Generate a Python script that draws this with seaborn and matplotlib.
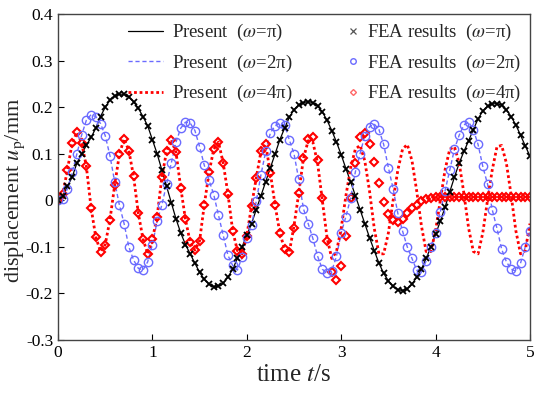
import numpy as np
import pandas as pd
import matplotlib.pyplot as plt
import seaborn as sns
from matplotlib.lines import Line2D

# Datos: desplazamiento u_p (mm) cada 0.05 s
t = np.round(np.arange(0, 5.001, 0.05), 2)

present_pi = [
    0.000, 0.010, 0.030, 0.050, 0.080, 0.100, 0.118, 0.135, 0.155, 0.180,
    0.200, 0.215, 0.225, 0.228, 0.228, 0.222, 0.212, 0.198, 0.180, 0.160,
    0.130, 0.100, 0.065, 0.030, -0.005, -0.040, -0.070, -0.095, -0.115, -0.135,
    -0.155, -0.170, -0.180, -0.186, -0.185, -0.178, -0.165, -0.148, -0.125, -0.100,
    -0.075, -0.050, -0.020, 0.010, 0.040, 0.070, 0.100, 0.130, 0.155, 0.178,
    0.195, 0.205, 0.210, 0.212, 0.210, 0.203, 0.190, 0.172, 0.150, 0.125,
    0.098, 0.068, 0.040, 0.010, -0.020, -0.050, -0.080, -0.108, -0.135, -0.157,
    -0.173, -0.185, -0.192, -0.194, -0.190, -0.180, -0.165, -0.148, -0.125, -0.100,
    -0.073, -0.045, -0.015, 0.018, 0.050, 0.080, 0.105, 0.128, 0.152, 0.175,
    0.192, 0.202, 0.207, 0.208, 0.204, 0.195, 0.180, 0.162, 0.140, 0.117,
    0.095,
]

present_2pi = [
    0.000, 0.003, 0.025, 0.060, 0.100, 0.140, 0.172, 0.184, 0.180, 0.165,
    0.139, 0.096, 0.040, -0.010, -0.050, -0.100, -0.128, -0.146, -0.150, -0.132,
    -0.095, -0.045, -0.010, 0.035, 0.080, 0.125, 0.155, 0.168, 0.166, 0.150,
    0.115, 0.075, 0.043, 0.012, -0.032, -0.075, -0.118, -0.140, -0.150, -0.122,
    -0.082, -0.054, -0.002, 0.055, 0.105, 0.145, 0.160, 0.166, 0.162, 0.130,
    0.100, 0.045, -0.018, -0.050, -0.082, -0.120, -0.148, -0.157, -0.152, -0.120,
    -0.070, -0.035, 0.005, 0.061, 0.100, 0.139, 0.158, 0.164, 0.152, 0.120,
    0.070, 0.025, -0.028, -0.066, -0.100, -0.125, -0.150, -0.155, -0.130, -0.100,
    -0.070, -0.025, 0.020, 0.065, 0.110, 0.140, 0.162, 0.168, 0.152, 0.120,
    0.073, 0.035, -0.020, -0.060, -0.105, -0.132, -0.148, -0.152, -0.135, -0.100,
    -0.065,
]

# omega = 4pi: linea y FEA coinciden hasta t = 2.45 s
red_common = [
    0.000, 0.013, 0.066, 0.123, 0.146, 0.124, 0.073, -0.016, -0.079, -0.110,
    -0.095, -0.042, 0.032, 0.099, 0.132, 0.107, 0.052, -0.027, -0.083, -0.115,
    -0.084, -0.035, 0.050, 0.105, 0.130, 0.103, 0.027, -0.041, -0.090, -0.107,
    -0.087, -0.009, 0.060, 0.110, 0.125, 0.080, 0.014, -0.065, -0.108, -0.115,
    -0.076, -0.012, 0.048, 0.105, 0.120, 0.058, -0.011, -0.070, -0.105, -0.112,
]
present_4pi = red_common + [
    -0.055, 0.015, 0.090, 0.128, 0.125, 0.080, 0.000, -0.080, -0.125, -0.110,
    -0.060, 0.010, 0.070, 0.110, 0.118, 0.085, 0.020, -0.060, -0.115, -0.115,
    -0.070, 0.000, 0.065, 0.110, 0.120, 0.085, 0.020, -0.055, -0.110, -0.110,
    -0.065, 0.000, 0.065, 0.110, 0.115, 0.080, 0.015, -0.060, -0.110, -0.115,
    -0.070, 0.000, 0.065, 0.115, 0.118, 0.080, 0.012, -0.065, -0.115, -0.108,
    -0.050,
]
fea_4pi = red_common + [
    -0.060, 0.015, 0.090, 0.132, 0.135, 0.087, 0.005, -0.087, -0.155, -0.172,
    -0.142, -0.076, 0.005, 0.080, 0.135, 0.145, 0.122, 0.082, 0.037, -0.004,
    -0.030, -0.043, -0.046, -0.040, -0.027, -0.017, -0.009, -0.002, 0.002, 0.005,
    0.007, 0.008, 0.008, 0.008, 0.008, 0.008, 0.008, 0.008, 0.008, 0.008,
    0.008, 0.008, 0.008, 0.008, 0.008, 0.008, 0.008, 0.008, 0.008, 0.008,
    0.008,
]
# FEA para pi y 2pi coincide con la solucion presente
fea_pi = present_pi
fea_2pi = present_2pi

x_ticks = [0, 1, 2, 3, 4, 5]
y_ticks = [-0.3, -0.2, -0.1, 0, 0.1, 0.2, 0.3, 0.4]
y_ticklabels = ['-0.3', '-0.2', '-0.1', '0', '0.1', '0.2', '0.3', '0.4']

dados = pd.DataFrame({'t': t, 'p1': present_pi, 'p2': present_2pi, 'p4': present_4pi,
                      'f1': fea_pi, 'f2': fea_2pi, 'f4': fea_4pi})

sns.set_style("white")
plt.rcParams['font.family'] = ['Liberation Serif', 'DejaVu Serif']
plt.rcParams['mathtext.fontset'] = 'stix'

azul = '#6b6bff'

fig, ax = plt.subplots(figsize=(5.5, 3.93), dpi=100)
fig.subplots_adjust(left=0.1055, right=0.9636, top=0.964, bottom=0.135)

sns.lineplot(data=dados, x='t', y='p1', color='black', linewidth=0.9, ax=ax, estimator=None)
sns.lineplot(data=dados, x='t', y='p2', color=azul, linewidth=1.0, linestyle=(0, (3, 2)), ax=ax, estimator=None)
sns.lineplot(data=dados, x='t', y='p4', color='red', linewidth=2.0, linestyle=(0, (1, 1)), ax=ax, estimator=None)

sns.lineplot(data=dados, x='t', y='f4', marker='D', linestyle='', markersize=4,
             markerfacecolor='none', markeredgecolor='red', markeredgewidth=1.5, ax=ax, estimator=None)
sns.lineplot(data=dados, x='t', y='f2', marker='o', linestyle='', markersize=6,
             markerfacecolor='none', markeredgecolor=azul, markeredgewidth=1.0, ax=ax, estimator=None)
sns.lineplot(data=dados, x='t', y='f1', marker='x', linestyle='', markersize=5,
             markeredgecolor='black', markeredgewidth=1.3, color='black', ax=ax, estimator=None)

ax.set_xlim(0, 5)
ax.set_ylim(-0.3, 0.4)
ax.set_xticks(x_ticks)
ax.set_xticklabels([str(v) for v in x_ticks])
ax.set_yticks(y_ticks)
ax.set_yticklabels(y_ticklabels)
ax.tick_params(direction='in', length=4, width=0.8, labelsize=12.5, colors='black',
               top=False, right=False, bottom=True, left=True)
for s in ax.spines.values():
    s.set_color('#444444')
    s.set_linewidth(1.0)

ax.set_xlabel('time $t$/s', fontsize=18, labelpad=2)
ax.set_ylabel(r'displacement $u_{\rm p}$/mm', fontsize=16)
ax.yaxis.set_label_coords(-0.066, 0.46)

h1 = [Line2D([], [], color='black', lw=0.9),
      Line2D([], [], color=azul, lw=1.0, ls=(0, (3, 2))),
      Line2D([], [], color='red', lw=2.0, ls=(0, (1, 1)))]
l1 = [r'Present  ($\omega$=π)', r'Present  ($\omega$=2π)', r'Present  ($\omega$=4π)']
leg1 = ax.legend(h1, l1, loc='upper left', bbox_to_anchor=(0.148, 0.975), frameon=False,
                 fontsize=13.5, handlelength=1.9, handletextpad=0.45, labelspacing=0.5,
                 borderpad=0, borderaxespad=0)
ax.add_artist(leg1)

h2 = [Line2D([], [], color='#555555', marker='x', ls='', ms=4, mew=0.9),
      Line2D([], [], color=azul, marker='o', ls='', ms=4, mfc='none', mew=1.0),
      Line2D([], [], color='#ff6666', marker='D', ls='', ms=3, mfc='none', mew=1.0)]
l2 = [r'FEA results  ($\omega$=π)', r'FEA results  ($\omega$=2π)', r'FEA results  ($\omega$=4π)']
ax.legend(h2, l2, loc='upper left', bbox_to_anchor=(0.61, 0.975), frameon=False,
          fontsize=13.5, handlelength=0.8, handletextpad=0.3, labelspacing=0.5,
          borderpad=0, borderaxespad=0, numpoints=1)

plt.savefig('out.png', dpi=100)
